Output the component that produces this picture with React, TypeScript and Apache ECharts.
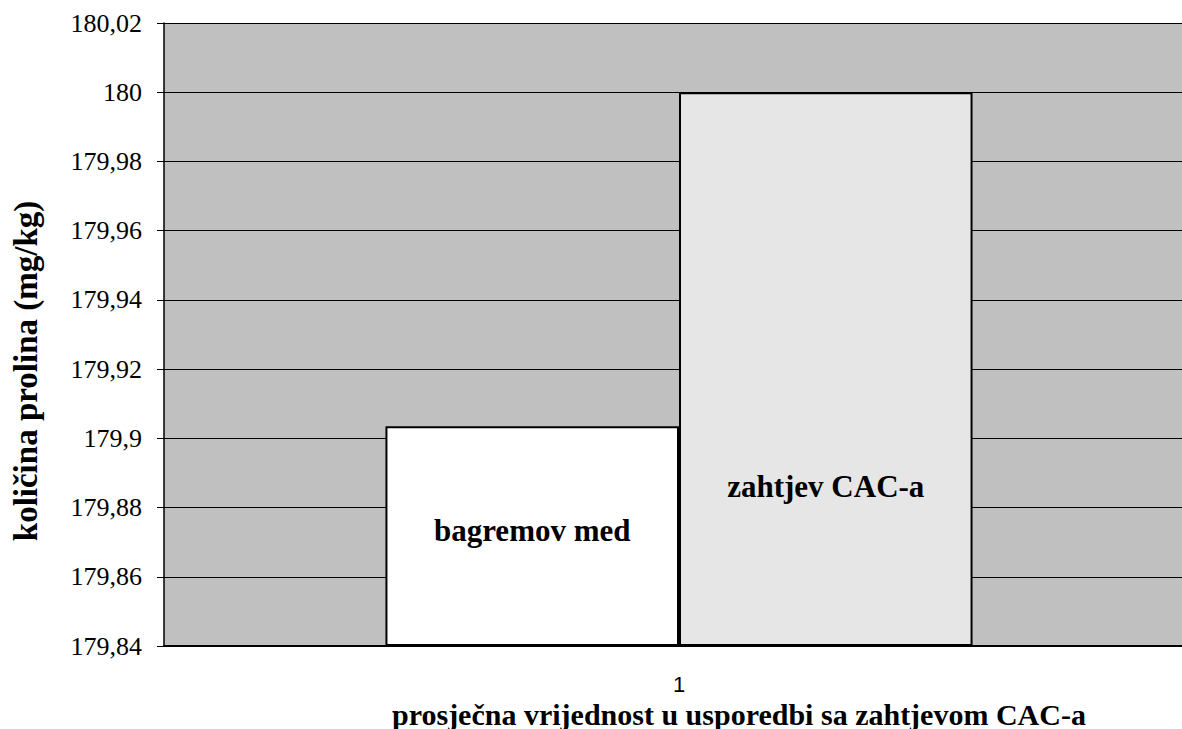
import React, { useEffect, useRef } from "react";
import * as echarts from "echarts";

const categories = ["1"];
const seriesNames = ["bagremov med", "zahtjev CAC-a"];
const honeyValues = [179.9035];
const cacValues = [180.0];
const yMin = 179.84;
const yMax = 180.02;
const yStep = 0.02;
const yAxisTitle = "količina prolina (mg/kg)";
const xAxisTitle = "prosječna vrijednost u usporedbi sa zahtjevom CAC-a";

const serif = "Times New Roman, Liberation Serif, serif";
const sans = "Arial, Liberation Sans, sans-serif";

export default function App() {
  const ref = useRef<HTMLDivElement>(null);
  useEffect(() => {
    if (!ref.current) return;
    const chart = echarts.init(ref.current, null, { renderer: "svg" });
    chart.setOption({
      animation: false,
      backgroundColor: "#ffffff",
      grid: {
        left: 164,
        right: 0,
        top: 23,
        bottom: 83,
        show: true,
        backgroundColor: "#C0C0C0",
        borderWidth: 0,
      },
      xAxis: {
        type: "category",
        data: categories,
        axisLine: { show: true, lineStyle: { color: "#000", width: 2 } },
        axisTick: { show: false },
        axisLabel: {
          fontFamily: sans,
          fontSize: 22,
          color: "#000",
          margin: 27,
          lineHeight: 22,
        },
      },
      yAxis: {
        type: "value",
        min: yMin,
        max: yMax,
        interval: yStep,
        startValue: yMin,
        axisLine: { show: true, lineStyle: { color: "#000", width: 1.5 } },
        axisTick: { show: true, length: 7, lineStyle: { color: "#000" } },
        splitLine: { show: true, lineStyle: { color: "#000", width: 1 } },
        axisLabel: {
          fontFamily: serif,
          fontSize: 26,
          color: "#000",
          margin: 22,
          formatter: (v: number) =>
            String(parseFloat(v.toFixed(2))).replace(".", ","),
        },
      },
      graphic: [
        {
          type: "text",
          x: 26,
          y: 371,
          rotation: Math.PI / 2,
          style: {
            text: yAxisTitle,
            fontFamily: serif,
            fontWeight: "bold",
            fontSize: 33,
            fill: "#000",
            align: "center",
            verticalAlign: "middle",
          },
        },
        {
          type: "text",
          x: 392,
          y: 714,
          style: {
            text: xAxisTitle,
            fontFamily: serif,
            fontWeight: "bold",
            fontSize: 30,
            fill: "#000",
            align: "left",
            verticalAlign: "middle",
          },
        },
      ],
      series: [
        {
          name: seriesNames[0],
          type: "bar",
          data: honeyValues,
          barGap: "0%",
          barCategoryGap: "43%",
          itemStyle: { color: "#FFFFFF", borderColor: "#000", borderWidth: 2 },
          label: {
            show: true,
            position: "insideBottom",
            distance: 100,
            formatter: "{a}",
            fontFamily: serif,
            fontWeight: "bold",
            fontSize: 31,
            color: "#000",
          },
        },
        {
          name: seriesNames[1],
          type: "bar",
          data: cacValues,
          barGap: "0%",
          barCategoryGap: "43%",
          itemStyle: { color: "#E6E6E6", borderColor: "#000", borderWidth: 2 },
          label: {
            show: true,
            position: "insideBottom",
            distance: 144,
            formatter: "{a}",
            fontFamily: serif,
            fontWeight: "bold",
            fontSize: 31,
            color: "#000",
          },
        },
      ],
    });
    return () => chart.dispose();
  }, []);
  return (
    <div
      style={{
        position: "absolute",
        left: 0,
        top: 0,
        width: 1182,
        height: 729,
        overflow: "hidden",
        background: "#fff",
      }}
    >
      <div ref={ref} style={{ width: 1194, height: 729 }} />
    </div>
  );
}
